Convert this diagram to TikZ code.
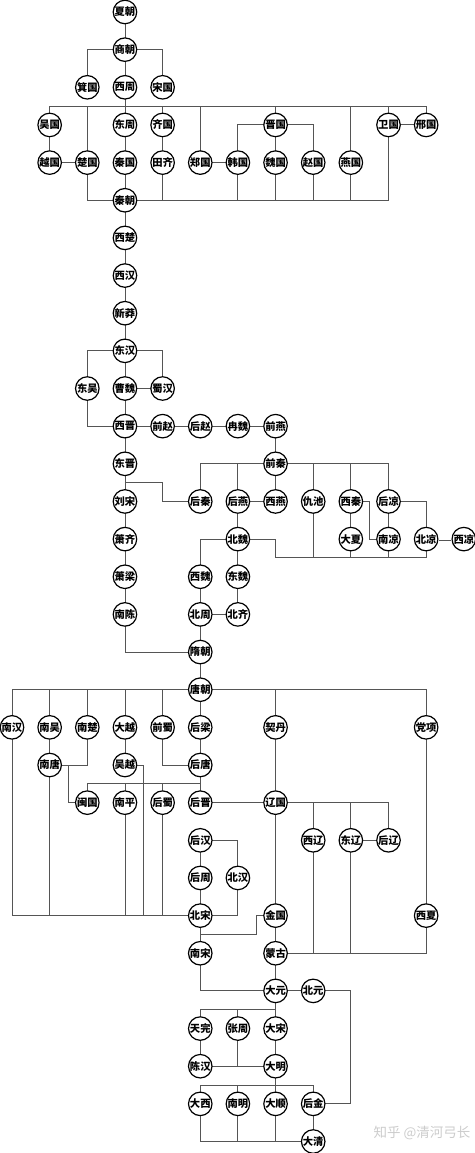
\documentclass[tikz,border=0pt]{standalone}
\usepackage{fontspec}
\newfontfamily\cjk{Noto Sans CJK SC}
\usetikzlibrary{backgrounds}
\definecolor{linec}{HTML}{555555}
\definecolor{wm}{HTML}{CCCCCC}
\tikzset{
  st/.style={circle, draw=black, line width=1.2pt, fill=white, minimum size=23.5pt, inner sep=0pt, font=\cjk\bfseries\fontsize{10.3}{12}\selectfont},
  ln/.style={draw=linec, line width=0.9pt},
}
\begin{document}
\begin{tikzpicture}[x=37.65pt, y=-37.65pt]
\useasboundingbox (-12pt,12pt) rectangle (462pt,-1141pt);
% nodes
\node[st] (xia) at (3,0) {夏朝};
\node[st] (shang) at (3,1) {商朝};
\node[st] (ji) at (2,2) {箕国};
\node[st] (xizhou) at (3,2) {西周};
\node[st] (songguo) at (4,2) {宋国};
\node[st] (wu) at (1,3) {吴国};
\node[st] (dongzhou) at (3,3) {东周};
\node[st] (qi) at (4,3) {齐国};
\node[st] (jin) at (7,3) {晋国};
\node[st] (wei) at (10,3) {卫国};
\node[st] (xing) at (11,3) {邢国};
\node[st] (yue) at (1,4) {越国};
\node[st] (chu) at (2,4) {楚国};
\node[st] (qinguo) at (3,4) {秦国};
\node[st] (tianqi) at (4,4) {田齐};
\node[st] (zheng) at (5,4) {郑国};
\node[st] (han) at (6,4) {韩国};
\node[st] (weiguo) at (7,4) {魏国};
\node[st] (zhao) at (8,4) {赵国};
\node[st] (yan) at (9,4) {燕国};
\node[st] (qin) at (3,5) {秦朝};
\node[st] (xichu) at (3,6) {西楚};
\node[st] (xihan) at (3,7) {西汉};
\node[st] (xinmang) at (3,8) {新莽};
\node[st] (donghan) at (3,9) {东汉};
\node[st] (dongwu) at (2,10) {东吴};
\node[st] (caowei) at (3,10) {曹魏};
\node[st] (shuhan) at (4,10) {蜀汉};
\node[st] (xijin) at (3,11) {西晋};
\node[st] (qianzhao) at (4,11) {前赵};
\node[st] (houzhao) at (5,11) {后赵};
\node[st] (ranwei) at (6,11) {冉魏};
\node[st] (qianyan) at (7,11) {前燕};
\node[st] (dongjin) at (3,12) {东晋};
\node[st] (qianqin) at (7,12) {前秦};
\node[st] (liusong) at (3,13) {刘宋};
\node[st] (houqin) at (5,13) {后秦};
\node[st] (houyan) at (6,13) {后燕};
\node[st] (xiyan) at (7,13) {西燕};
\node[st] (chouchi) at (8,13) {仇池};
\node[st] (xiqin) at (9,13) {西秦};
\node[st] (houliang) at (10,13) {后凉};
\node[st] (xiaoqi) at (3,14) {萧齐};
\node[st] (beiwei) at (6,14) {北魏};
\node[st] (daxia) at (9,14) {大夏};
\node[st] (nanliang) at (10,14) {南凉};
\node[st] (beiliang) at (11,14) {北凉};
\node[st] (xiliang) at (12,14) {西凉};
\node[st] (xiaoliang) at (3,15) {萧梁};
\node[st] (xiwei) at (5,15) {西魏};
\node[st] (dongwei) at (6,15) {东魏};
\node[st] (nanchen) at (3,16) {南陈};
\node[st] (beizhou) at (5,16) {北周};
\node[st] (beiqi) at (6,16) {北齐};
\node[st] (sui) at (5,17) {隋朝};
\node[st] (tang) at (5,18) {唐朝};
\node[st] (nanhan) at (0,19) {南汉};
\node[st] (nanwu) at (1,19) {南吴};
\node[st] (nanchu) at (2,19) {南楚};
\node[st] (dayue) at (3,19) {大越};
\node[st] (qianshu) at (4,19) {前蜀};
\node[st] (houliangd) at (5,19) {后梁};
\node[st] (qidan) at (7,19) {契丹};
\node[st] (dangxiang) at (11,19) {党项};
\node[st] (nantang) at (1,20) {南唐};
\node[st] (wuyue) at (3,20) {吴越};
\node[st] (houtang) at (5,20) {后唐};
\node[st] (min) at (2,21) {闽国};
\node[st] (nanping) at (3,21) {南平};
\node[st] (houshu) at (4,21) {后蜀};
\node[st] (houjin) at (5,21) {后晋};
\node[st] (liao) at (7,21) {辽国};
\node[st] (houhan) at (5,22) {后汉};
\node[st] (xiliao) at (8,22) {西辽};
\node[st] (dongliao) at (9,22) {东辽};
\node[st] (houliao) at (10,22) {后辽};
\node[st] (houzhou) at (5,23) {后周};
\node[st] (beihan) at (6,23) {北汉};
\node[st] (beisong) at (5,24) {北宋};
\node[st] (jinguo) at (7,24) {金国};
\node[st] (xixia) at (11,24) {西夏};
\node[st] (nansong) at (5,25) {南宋};
\node[st] (menggu) at (7,25) {蒙古};
\node[st] (yuan) at (7,26) {大元};
\node[st] (beiyuan) at (8,26) {北元};
\node[st] (tianwan) at (5,27) {天完};
\node[st] (zhangzhou) at (6,27) {张周};
\node[st] (dasong) at (7,27) {大宋};
\node[st] (chenhan) at (5,28) {陈汉};
\node[st] (ming) at (7,28) {大明};
\node[st] (daxi) at (5,29) {大西};
\node[st] (nanming) at (6,29) {南明};
\node[st] (dashun) at (7,29) {大顺};
\node[st] (houjind) at (8,29) {后金};
\node[st] (qing) at (8,30) {大清};
% junction coordinates
\coordinate (L1) at (1,2.5);
\coordinate (L2) at (11,2.5);
\coordinate (E1) at (3,12.5);
\coordinate (E2) at (4,12.5);
\coordinate (X1) at (9.5,13);
\coordinate (R1) at (7,14.5);
\coordinate (R2) at (11,14.5);
\coordinate (T1) at (2,20.5);
\coordinate (M1) at (1.5,20);
\coordinate (W1) at (3.5,20);
\coordinate (G1) at (6.5,24);
\coordinate (G2) at (6.5,24.5);
\coordinate (B1) at (9,26);
\coordinate (Y1) at (5,26.5);
\coordinate (N1) at (5,28.5);
\node[font=\cjk\fontsize{13.5}{15}\selectfont, text=wm, anchor=east] (wmark) at (462pt,-1121pt) {知乎 @清河弓长};
\begin{pgfonlayer}{background}
\draw[ln] (xia.center) -- (shang.center);
\draw[ln] (ji.center) |- (shang.center) -| (songguo.center);
\draw[ln] (shang.center) -- (xizhou.center) -- (dongzhou.center);
\draw[ln] (wu.center) -- (L1) -- (L2) -- (xing.center);
\foreach \n in {chu,qi,zheng,jin,yan,wei} \draw[ln] (\n.center) -- (\n.center |- L1);
\draw[ln] (wu.center) -- (yue.center) -- (chu.center);
\draw[ln] (dongzhou.center) -- (qinguo.center) -- (qin.center);
\draw[ln] (qi.center) -- (tianqi.center);
\draw[ln] (han.center) |- (jin.center) -| (zhao.center);
\draw[ln] (jin.center) -- (weiguo.center);
\draw[ln] (zheng.center) -- (han.center);
\draw[ln] (wei.center) -- (xing.center);
\draw[ln] (chu.center) |- (qin.center) -| (wei.center);
\foreach \n in {tianqi,han,weiguo,zhao,yan} \draw[ln] (\n.center) -- (\n.center |- qin.center);
\draw[ln] (qin.center) -- (xichu.center) -- (xihan.center) -- (xinmang.center) -- (donghan.center) -- (caowei.center) -- (xijin.center) -- (dongjin.center) -- (liusong.center) -- (xiaoqi.center) -- (xiaoliang.center) -- (nanchen.center);
\draw[ln] (dongwu.center) |- (donghan.center) -| (shuhan.center);
\draw[ln] (caowei.center) -- (shuhan.center);
\draw[ln] (dongwu.center) |- (xijin.center);
\draw[ln] (xijin.center) -- (qianzhao.center) -- (houzhao.center) -- (ranwei.center) -- (qianyan.center) -- (qianqin.center) -- (xiyan.center);
\draw[ln] (houqin.center) |- (qianqin.center) -| (houliang.center);
\foreach \n in {houyan,chouchi,xiqin} \draw[ln] (\n.center) -- (\n.center |- qianqin.center);
\draw[ln] (E1) -- (E2) |- (houqin.center);
\draw[ln] (houyan.center) -- (xiyan.center);
\draw[ln] (houyan.center) -- (beiwei.center) -- (dongwei.center) -- (beiqi.center);
\draw[ln] (xiqin.center) -- (daxia.center);
\draw[ln] (xiqin.center) -- (X1) |- (nanliang.center);
\draw[ln] (houliang.center) -- (nanliang.center);
\draw[ln] (houliang.center) -| (beiliang.center);
\draw[draw=linec, line width=0.7pt, double=white, double distance=1.4pt] (beiliang.east) -- (xiliang.west);
\draw[ln] (beiwei.center) -| (R1) -- (R2) -- (beiliang.center);
\foreach \n in {chouchi,daxia,nanliang} \draw[ln] (\n.center) -- (\n.center |- R1);
\draw[ln] (xiwei.center) |- (beiwei.center);
\draw[ln] (xiwei.center) -- (beizhou.center) -- (beiqi.center);
\draw[ln] (beizhou.center) -- (sui.center) -- (tang.center) -- (houliangd.center) -- (houtang.center) -- (houjin.center);
\draw[ln] (nanchen.center) |- (sui.center);
\draw[ln] (nanhan.center) |- (tang.center) -| (dangxiang.center);
\foreach \n in {nanwu,nanchu,dayue,qianshu,qidan} \draw[ln] (\n.center) -- (\n.center |- tang.center);
\draw[ln] (nanwu.center) -- (nantang.center);
\draw[ln] (nanchu.center) |- (nantang.center);
\draw[ln] (dayue.center) -- (wuyue.center);
\draw[ln] (qianshu.center) |- (houtang.center);
\draw[ln] (min.center) -- (T1) -| (houjin.center);
\foreach \n in {nanping,houshu} \draw[ln] (\n.center) -- (\n.center |- T1);
\draw[ln] (M1) |- (min.center);
\draw[ln] (wuyue.center) -- (W1) -- (W1 |- beisong.center);
\draw[ln] (nanhan.center) |- (beisong.center);
\foreach \n in {nantang,nanping,houshu} \draw[ln] (\n.center) -- (\n.center |- beisong.center);
\draw[ln] (houjin.center) -- (liao.center);
\draw[ln] (houhan.center) -- (houzhou.center) -- (beisong.center) -- (nansong.center);
\draw[ln] (houhan.center) -| (beihan.center) |- (beisong.center);
\draw[ln] (qidan.center) -- (liao.center) -- (jinguo.center) -- (menggu.center) -- (yuan.center) -- (dasong.center) -- (ming.center) -- (dashun.center);
\draw[ln] (liao.center) -| (houliao.center);
\foreach \n in {xiliao,dongliao} \draw[ln] (\n.center) -- (\n.center |- liao.center);
\draw[ln] (dongliao.center) -- (houliao.center);
\draw[ln] (menggu.center) -| (xixia.center) -- (dangxiang.center);
\foreach \n in {xiliao,dongliao} \draw[ln] (\n.center) -- (\n.center |- menggu.center);
\draw[ln] (jinguo.center) -- (G1) -- (G2) -- (G2 -| beisong.center);
\draw[ln] (nansong.center) |- (yuan.center);
\draw[ln] (yuan.center) -- (beiyuan.center) -- (B1) |- (houjind.center);
\draw[ln] (tianwan.center) -- (Y1) -| (dasong.center);
\draw[ln] (zhangzhou.center) -- (zhangzhou.center |- Y1);
\draw[ln] (tianwan.center) -- (chenhan.center) -- (ming.center);
\draw[ln] (zhangzhou.center) -- (zhangzhou.center |- ming.center);
\draw[ln] (daxi.center) -- (N1) -| (houjind.center) -- (qing.center);
\draw[ln] (nanming.center) -- (nanming.center |- N1);
\draw[ln] (daxi.center) |- (qing.center);
\foreach \n in {nanming,dashun} \draw[ln] (\n.center) -- (\n.center |- qing.center);
\end{pgfonlayer}
\end{tikzpicture}
\end{document}
